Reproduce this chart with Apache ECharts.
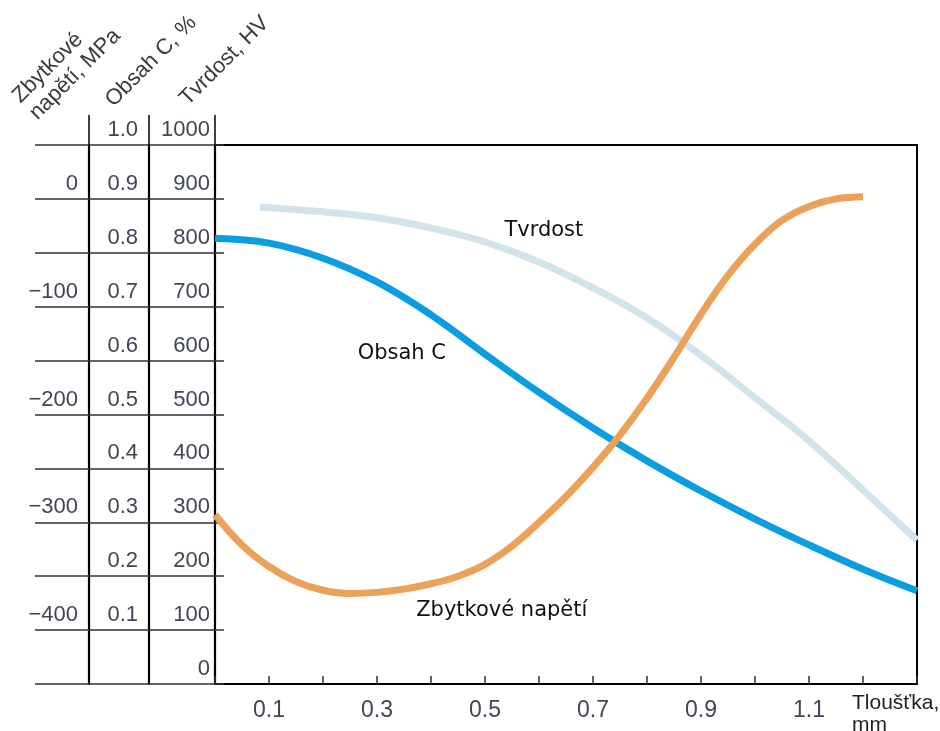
<!DOCTYPE html>
<html>
<head>
<meta charset="utf-8">
<title>Tvrdost, obsah C a zbytkové napětí</title>
<script src="https://cdn.jsdelivr.net/npm/echarts@6/dist/echarts.min.js"></script>
<style>
  html, body { margin: 0; padding: 0; background: #fff; }
  #chart { width: 940px; height: 731px; }
</style>
</head>
<body>
<div id="chart"></div>
<script>
// Thickness (mm) and carbon content (%)
const thicknessC = [0, 0.1, 0.2, 0.3, 0.4, 0.5, 0.6, 0.7, 0.8, 0.9, 1.0, 1.1, 1.2, 1.3];
const carbonPct = [0.827, 0.818, 0.790, 0.746, 0.685, 0.612, 0.541, 0.475, 0.414, 0.358, 0.306, 0.258, 0.213, 0.173];

// Thickness (mm) and hardness (HV)
const thicknessHV = [0.083, 0.2, 0.3, 0.4, 0.5, 0.6, 0.7, 0.8, 0.9, 1.0, 1.1, 1.2, 1.3];
const hardnessHV = [885, 876, 865, 846, 820, 783, 735, 679, 610, 531, 451, 360, 267];

// Thickness (mm) and residual stress (MPa)
const thicknessStress = [0, 0.05, 0.1, 0.15, 0.2, 0.25, 0.3, 0.35, 0.4, 0.45, 0.5, 0.55, 0.6,
                         0.65, 0.7, 0.75, 0.8, 0.85, 0.9, 0.95, 1.0, 1.05, 1.1, 1.15, 1.2];
const stressMPa = [-293, -321, -341, -355, -363, -366, -365, -362, -357, -350, -339, -322, -300,
                   -276, -249, -219, -185, -147, -107, -71, -42, -20, -7, 0, 2];

// Axis titles and curve captions
const axisNames = {
  stress: ['Zbytkové', 'napětí, MPa'],
  carbon: 'Obsah C, %',
  hardness: 'Tvrdost, HV',
  thickness: 'Tloušťka,\nmm'
};
const curveNames = { hardness: 'Tvrdost', carbon: 'Obsah C', stress: 'Zbytkové napětí' };
// caption anchors in each curve's own units [mm, value]
const hardnessCaptionAt = [0.609, 842];
const carbonCaptionAt = [0.346, 0.614];
const stressCaptionAt = [0.531, -381.5];

const pairs = (xs, ys) => xs.map((x, i) => [x, ys[i]]);

const tickFont = { fontFamily: 'Liberation Sans', fontSize: 22, color: '#414656' };
const titleFont = { fontFamily: 'Liberation Sans', fontSize: 22, color: '#3a3a3a' };
// value labels sit just above their rule
const yLabel = (margin, formatter) => Object.assign({}, tickFont, {
  margin, verticalAlign: 'bottom', lineHeight: 30, formatter
});
const captionLabel = (text) => ({
  show: true, position: 'inside', formatter: text,
  fontFamily: 'DejaVu Sans', fontSize: 21, color: '#111'
});
const axisLine = () => ({
  show: true,
  lineStyle: { color: '#000', width: 2.2 },
  // the column rules rise above the plot frame
  symbol: ['none', 'rect'],
  symbolSize: [1.5, 60]
});
const curve = (name, axisIndex, xs, ys, color, captionAt) => ({
  name, type: 'line', yAxisIndex: axisIndex,
  smooth: 0.4, showSymbol: false,
  data: pairs(xs, ys),
  lineStyle: { color, width: 7 },
  markPoint: {
    symbol: 'circle', symbolSize: 1, itemStyle: { color: 'transparent' },
    label: captionLabel(name),
    data: [{ coord: captionAt }]
  }
});

const chart = echarts.init(document.getElementById('chart'), null, { renderer: 'canvas' });

chart.setOption({
  animation: false,
  backgroundColor: '#fff',
  grid: {
    left: 215, right: 23, top: 145, bottom: 47,
    outerBoundsMode: 'none',
    containLabel: false,
    show: true, borderColor: '#000', borderWidth: 2, backgroundColor: 'transparent'
  },
  xAxis: {
    type: 'value', min: 0, max: 1.3, interval: 0.1,
    axisLine: { show: true, lineStyle: { color: '#000', width: 2 } },
    axisTick: { show: true, inside: true, length: 8, lineStyle: { color: '#333', width: 1.5 } },
    splitLine: { show: false },
    axisLabel: Object.assign({}, tickFont, {
      fontSize: 23, margin: 15,
      formatter: v => {
        const r = Math.round(v * 10);
        return (r % 2 === 1 && r <= 11) ? v.toFixed(1) : '';
      }
    }),
    name: axisNames.thickness,
    nameLocation: 'end',
    nameGap: -65,
    nameTextStyle: {
      fontFamily: 'Liberation Sans', fontSize: 21, color: '#222',
      align: 'left', verticalAlign: 'top', lineHeight: 22, padding: [8, 0, 0, 0]
    }
  },
  yAxis: [
    {
      // hardness, HV
      type: 'value', position: 'left', offset: 0, min: 0, max: 1000, interval: 100,
      axisLine: axisLine(),
      axisTick: { show: true, inside: false, length: 180, lineStyle: { color: '#333', width: 1.5 } },
      splitLine: { show: false },
      axisLabel: yLabel(5, v => String(Math.round(v))),
      name: axisNames.hardness, nameLocation: 'end', nameGap: 74.5, nameRotate: 45,
      nameTextStyle: Object.assign({}, titleFont, {
        align: 'center', verticalAlign: 'middle', padding: [0, 0, 0, 27]
      })
    },
    {
      // carbon content, %
      type: 'value', position: 'left', offset: 66, min: 0, max: 1, interval: 0.1,
      axisLine: axisLine(),
      axisTick: { show: true, inside: true, length: 75, lineStyle: { color: '#333', width: 1.5 } },
      splitLine: { show: false },
      axisLabel: yLabel(11, v => (Math.abs(v) < 1e-9 ? '' : v.toFixed(1))),
      name: axisNames.carbon, nameLocation: 'end', nameGap: 81.5, nameRotate: 45,
      nameTextStyle: Object.assign({}, titleFont, {
        align: 'center', verticalAlign: 'middle', padding: [0, 0, 0, 6]
      })
    },
    {
      // residual stress, MPa
      type: 'value', position: 'left', offset: 126, min: -450, max: 50, interval: 50,
      axisLine: axisLine(),
      axisTick: { show: false },
      splitLine: { show: false },
      axisLabel: yLabel(11, v => {
        const r = Math.round(v);
        if (r > 0 || r % 100 !== 0) return '';
        return r === 0 ? '0' : '\u2212' + Math.abs(r);
      }),
      name: axisNames.stress.map(s => '{l|' + s + '}').join('\n'),
      nameLocation: 'end', nameGap: 101.5, nameRotate: 45,
      nameTextStyle: Object.assign({}, titleFont, {
        align: 'center', verticalAlign: 'middle', padding: [0, 64, 0, 0],
        rich: { l: { width: 118, align: 'left', lineHeight: 24, fontFamily: 'Liberation Sans', fontSize: 22, color: '#3a3a3a' } }
      })
    }
  ],
  series: [
    curve(curveNames.hardness, 0, thicknessHV, hardnessHV, '#d3e3ec', hardnessCaptionAt),
    curve(curveNames.carbon, 1, thicknessC, carbonPct, '#0a9ee0', carbonCaptionAt),
    curve(curveNames.stress, 2, thicknessStress, stressMPa, '#eba157', stressCaptionAt)
  ]
});
</script>
</body>
</html>
